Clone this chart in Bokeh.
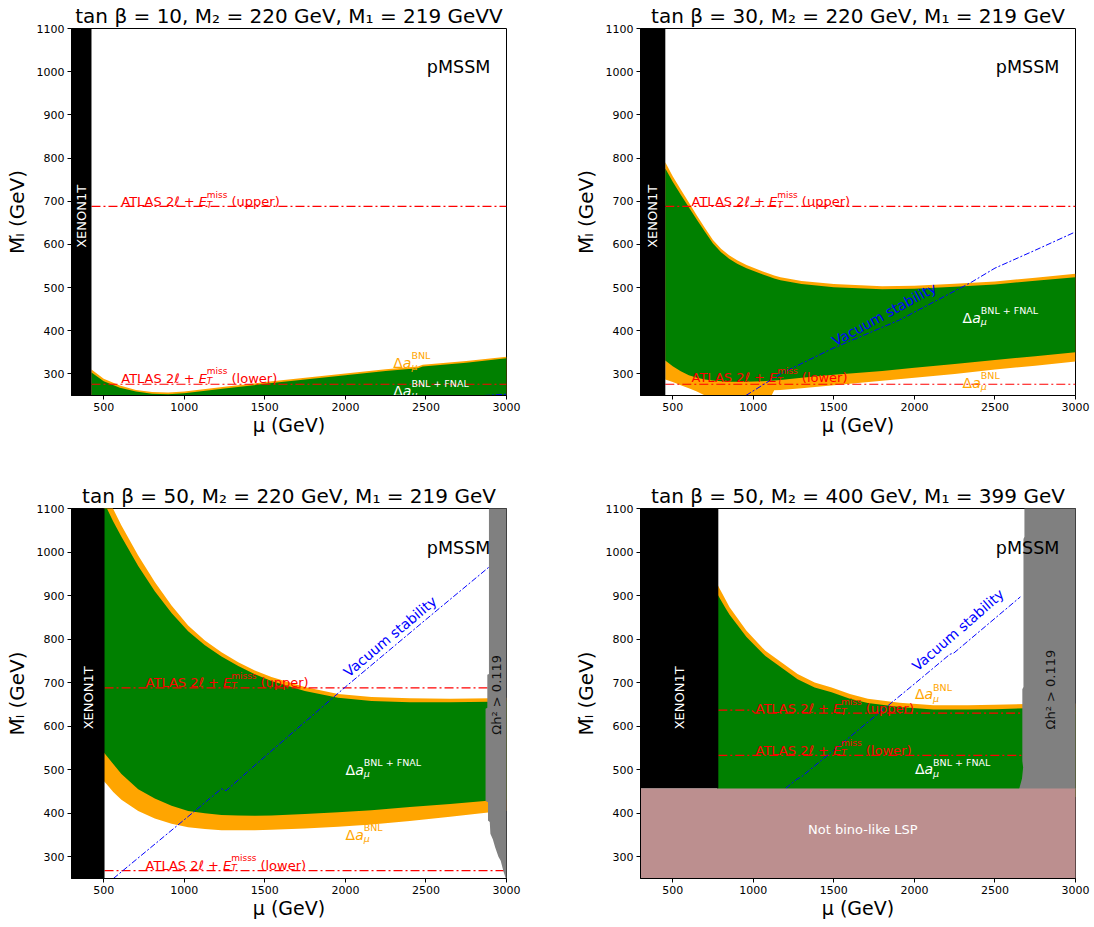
import math
from bokeh.plotting import figure
from bokeh.models import Range1d, FixedTicker
from bokeh.layouts import row, column
from bokeh.core.properties import value
from bokeh.embed import file_html
from bokeh.resources import INLINE

FONT = "DejaVu Sans"
GREEN = "#008000"
ORANGE = "#FFA500"
GREY = "#808080"
ROSY = "#BC8F8F"
RED = "#FF0000"
BLUE = "#0000FF"

X_TICKS = [500, 1000, 1500, 2000, 2500, 3000]
Y_TICKS = [300, 400, 500, 600, 700, 800, 900, 1000, 1100]

TITLES = [
    "tan β = 10, M₂ = 220 GeV, M₁ = 219 GeVV",
    "tan β = 30, M₂ = 220 GeV, M₁ = 219 GeV",
    "tan β = 50, M₂ = 220 GeV, M₁ = 219 GeV",
    "tan β = 50, M₂ = 400 GeV, M₁ = 399 GeV",
]
X_LABEL = "μ (GeV)"
Y_LABEL = "Mₗ̃ (GeV)"
ATLAS_SUP = ["miss", "miss", "misss", "miss"]

# XENON1T exclusion edge (mu, GeV)
XENON_EDGE = [424, 454, 505, 783]
# ATLAS 2l + ETmiss slepton limits
ATLAS_UPPER = [688, 688, 688, 630]
ATLAS_LOWER = [276, 276, 268, 533]
P4_ATLAS_UP_MU = [783, 990, 1010, 3000]
P4_ATLAS_UP = [637, 637, 630, 630]
# Not bino-like LSP region (panel 4)
BINO_LIMIT = 457

# ---- panel 1: tan beta = 10
P1_MU = [424, 500, 600, 700, 800, 900, 1000, 1250, 1500, 1750, 2000, 2250, 2450, 2480, 2750, 3000]
P1_BNL_HI = [310, 289, 273, 263, 258, 257, 259, 270, 281, 291, 301, 311, 317, 321, 330, 340]
P1_FNAL_HI = [303, 283, 268, 259, 254, 253, 255, 266, 277, 287, 297, 307, 313, 317, 326, 336]
P1_VAC_MU = [2860, 3000]
P1_VAC = [250, 253]

# ---- panel 2: tan beta = 30
P2_MU = [454, 500, 550, 600, 650, 700, 750, 800, 850, 900, 958, 1060, 1100, 1130, 1169, 1300, 1500, 1800, 2000, 2250, 2500, 2750, 3000]
P2_BNL_HI = [790, 758, 727, 697, 667, 638, 610, 590, 575, 563, 552, 537, 532, 528, 524, 515, 508, 503, 504, 509, 514, 523, 532]
P2_FNAL_HI = [776, 745, 715, 686, 657, 629, 602, 582, 567, 555, 545, 530, 525, 521, 517, 508, 501, 496, 497, 502, 507, 516, 524]
P2_FNAL_LO = [331, 318, 306, 297, 291, 287, 285, 283, 282, 282, 282, 283, 284, 285, 286, 291, 298, 307, 314, 323, 332, 341, 350]
P2_BNL_LO = [287, 281, 274, 267, 259, 250, 240, 236, 235, 235, 235, 236, 240, 262, 263, 267, 274, 284, 291, 300, 310, 319, 329]
P2_VAC_MU = [954, 1169, 1486, 1908, 2352, 2500, 2753, 3000]
P2_VAC = [250, 300, 358, 425, 512, 545, 587, 629]

# ---- panel 3: tan beta = 50, M2 = 220
P3_MU = [500, 520, 559, 610, 714, 817, 921, 1024, 1128, 1231, 1335, 1438, 1541, 1748, 1955, 2162, 2400, 2650, 2900, 3000]
P3_BNL_HI = [1150, 1130, 1099, 1061, 992, 931, 877, 831, 797, 770, 747, 728, 713, 690, 674, 667, 664, 663, 664, 665]
P3_FNAL_HI = [1120, 1100, 1070, 1035, 968, 910, 860, 818, 786, 760, 738, 719, 704, 681, 665, 658, 655, 655, 656, 657]
P3_FNAL_LO = [540, 531, 513, 490, 455, 434, 417, 405, 400, 396, 395, 394, 395, 398, 402, 407, 414, 421, 429, 432]
P3_BNL_LO = [474, 466, 449, 431, 405, 388, 376, 368, 364, 361, 361, 361, 362, 365, 369, 374, 382, 392, 402, 405]
P3_VAC_MU = [560, 1000, 1230, 1260, 1500, 2000, 2500, 2890]
P3_VAC = [250, 385, 456, 452, 530, 690, 845, 965]
P3_OMEGA_MU = [2891, 2891, 2881, 2881, 2870, 2870, 2885, 2885, 2896, 2900, 2915, 2930, 2950, 2964, 2980, 3000, 3010, 3010]
P3_OMEGA = [1110, 720, 718, 642, 640, 428, 425, 383, 380, 353, 340, 321, 300, 291, 268, 245, 245, 1110]

# ---- panel 4: tan beta = 50, M2 = 400
P4_MU = [775, 829, 853, 958, 1075, 1275, 1381, 1486, 1600, 1711, 1908, 2119, 2331, 2500, 2700, 3000]
P4_BNL_HI = [927, 890, 873, 819, 773, 720, 700, 689, 674, 663, 654, 648, 648, 649, 651, 652]
P4_FNAL_HI = [905, 870, 856, 805, 761, 708, 689, 678, 663, 653, 644, 638, 638, 639, 641, 642]
P4_VAC_MU = [1201, 1270, 1300, 1500, 2000, 2220, 2245, 2658]
P4_VAC = [457, 478, 484, 545, 697, 765, 768, 897]
P4_OMEGA_MU = [2683, 2683, 2677, 2677, 2670, 2670, 2675, 2668, 2650, 3010, 3010]
P4_OMEGA = [1110, 1035, 1030, 690, 685, 520, 505, 480, 455, 455, 1110]

XMIN, XMAX, YMIN, YMAX = 300, 3000, 250, 1100
FRAME_W, FRAME_H = 435, 370
SX = FRAME_W / (XMAX - XMIN)
SY = FRAME_H / (YMAX - YMIN)


def txt(p, x, y, s, size, color="black", align="left", baseline="alphabetic",
        style="normal", dx=0, dy=0, angle=0):
    p.text(x=[x], y=[y], text=[s], text_font=value(FONT), text_font_size=f"{size}px",
           text_color=color, text_align=align, text_baseline=baseline,
           text_font_style=style, x_offset=dx, y_offset=dy, angle=angle)


def delta_a(p, x, yc, sup, color):
    y = yc - 5 / SY
    wD, wa = 9.6, 8.6
    txt(p, x, y, "Δ", 14, color, align="right", dx=wD)
    txt(p, x, y, "a", 14, color, style="italic", dx=wD)
    txt(p, x, y, "μ", 9.5, color, style="italic", dx=wD + wa, dy=4)
    txt(p, x, y, sup, 9.5, color, dx=wD + wa, dy=-7)


def atlas_label(p, x, yc, which, sup):
    y = yc - 4.7 / SY
    d0, sp, wE = 74.4, 4.1, 8.2
    wm = 4.52 * len(sup) + 2.5
    txt(p, x, y, "ATLAS 2ℓ +", 13, RED, align="right", dx=d0)
    txt(p, x, y, "E", 13, RED, style="italic", dx=d0 + sp)
    txt(p, x, y, "T", 9, RED, style="italic", dx=d0 + sp + wE, dy=3)
    txt(p, x, y, sup, 9, RED, dx=d0 + sp + wE, dy=-7)
    txt(p, x, y, f"({which})", 13, RED, dx=d0 + sp + wE + wm + sp)


def base_fig(col, rw, title):
    w = 560 if col == 0 else 532
    bl = 71 if col == 0 else 80
    br = w - bl - FRAME_W
    bt = 25 if rw == 0 else 38
    bb = 75 if rw == 0 else 47
    h = bt + FRAME_H + bb
    p = figure(width=w, height=h, x_range=Range1d(XMIN, XMAX), y_range=Range1d(YMIN, YMAX),
               output_backend="svg", toolbar_location=None, min_border_left=bl,
               min_border_right=br, min_border_top=bt, min_border_bottom=bb, title=title)
    p.title.text_font = FONT
    p.title.text_font_size = "20px"
    p.title.text_font_style = "normal"
    p.title.align = "center"
    p.title.standoff = 2
    p.title.text_color = "black"
    p.grid.visible = False
    p.background_fill_color = "white"
    p.border_fill_color = "white"
    p.outline_line_color = "black"
    p.outline_line_width = 1
    p.xaxis.ticker = FixedTicker(ticks=X_TICKS)
    p.yaxis.ticker = FixedTicker(ticks=Y_TICKS)
    for ax in p.axis:
        ax.major_tick_in = 0
        ax.major_tick_out = 4
        ax.minor_tick_line_color = None
        ax.major_label_text_font = FONT
        ax.major_label_text_font_size = "11px"
        ax.major_label_text_color = "black"
        ax.major_label_standoff = 3
        ax.axis_line_color = "black"
        ax.major_tick_line_color = "black"
        ax.axis_label_text_font = FONT
        ax.axis_label_text_font_style = "normal"
        ax.axis_label_text_color = "black"
    p.xaxis.axis_label = X_LABEL
    p.xaxis.axis_label_text_font_size = "19px"
    p.xaxis.axis_label_standoff = 0
    p.yaxis.axis_label = Y_LABEL
    p.yaxis.axis_label_text_font_size = "20px"
    p.yaxis.axis_label_standoff = 5
    return p


def atlas_lines(p, i):
    xe = XENON_EDGE[i]
    if i == 3:
        p.line(P4_ATLAS_UP_MU, P4_ATLAS_UP, line_color=RED, line_width=1.2, line_dash="9 3 2 3")
    else:
        p.line([xe, XMAX], [ATLAS_UPPER[i], ATLAS_UPPER[i]], line_color=RED, line_width=1.2,
               line_dash="9 3 2 3")
    p.line([xe, XMAX], [ATLAS_LOWER[i], ATLAS_LOWER[i]], line_color=RED, line_width=1.2,
           line_dash="9 3 2 3")


def xenon(p, i, bottom):
    p.quad(left=[XMIN - 20], right=[XENON_EDGE[i]], bottom=[bottom], top=[YMAX + 20],
           fill_color="black", line_color=None)
    txt(p, (XMIN + XENON_EDGE[i]) / 2, 665, "XENON1T", 13, "white", align="center",
        baseline="middle", angle=math.pi / 2)


def vacuum(p, xs, ys):
    p.line(xs, ys, line_color=BLUE, line_width=1, line_dash="6 2 2 2")


def pmssm(p):
    txt(p, 2900, 1010, "pMSSM", 17.5, "black", align="right", baseline="middle")


figs = []

# ---------------- panel 1
p = base_fig(0, 0, TITLES[0])
p.varea(x=P1_MU, y1=YMIN - 20, y2=P1_BNL_HI, fill_color=ORANGE)
p.varea(x=P1_MU, y1=YMIN - 20, y2=P1_FNAL_HI, fill_color=GREEN)
atlas_lines(p, 0)
vacuum(p, P1_VAC_MU, P1_VAC)
atlas_label(p, 602, 710, "upper", ATLAS_SUP[0])
atlas_label(p, 602, 301, "lower", ATLAS_SUP[0])
delta_a(p, 2297, 337, "BNL", ORANGE)
delta_a(p, 2297, 272, "BNL + FNAL", "white")
xenon(p, 0, YMIN - 20)
pmssm(p)
figs.append(p)

# ---------------- panel 2
p = base_fig(1, 0, TITLES[1])
p.varea(x=P2_MU, y1=P2_BNL_LO, y2=P2_BNL_HI, fill_color=ORANGE)
p.varea(x=P2_MU, y1=P2_FNAL_LO, y2=P2_FNAL_HI, fill_color=GREEN)
atlas_lines(p, 1)
vacuum(p, P2_VAC_MU, P2_VAC)
atlas_label(p, 610, 710, "upper", ATLAS_SUP[1])
atlas_label(p, 610, 302, "lower", ATLAS_SUP[1])
delta_a(p, 2299, 442, "BNL + FNAL", "white")
delta_a(p, 2299, 291, "BNL", ORANGE)
txt(p, 1813, 438, "Vacuum stability", 14, BLUE, align="center", baseline="middle",
    angle=math.radians(28.5))
xenon(p, 1, YMIN - 20)
pmssm(p)
figs.append(p)

# ---------------- panel 3
p = base_fig(0, 1, TITLES[2])
p.varea(x=P3_MU, y1=P3_BNL_LO, y2=P3_BNL_HI, fill_color=ORANGE)
p.varea(x=P3_MU, y1=P3_FNAL_LO, y2=P3_FNAL_HI, fill_color=GREEN)
atlas_lines(p, 2)
vacuum(p, P3_VAC_MU, P3_VAC)
atlas_label(p, 753, 710, "upper", ATLAS_SUP[2])
atlas_label(p, 753, 291, "lower", ATLAS_SUP[2])
delta_a(p, 2001, 511, "BNL + FNAL", "white")
delta_a(p, 2001, 362, "BNL", ORANGE)
txt(p, 2277, 806, "Vacuum stability", 14, BLUE, align="center", baseline="middle",
    angle=math.radians(40))
p.patch(P3_OMEGA_MU, P3_OMEGA, fill_color=GREY, line_color=None)
txt(p, 2935, 672, "Ωh² > 0.119", 13, "#111111", align="center", baseline="middle",
    angle=math.pi / 2)
xenon(p, 2, YMIN - 20)
pmssm(p)
figs.append(p)

# ---------------- panel 4
p = base_fig(1, 1, TITLES[3])
p.varea(x=P4_MU, y1=BINO_LIMIT - 20, y2=P4_BNL_HI, fill_color=ORANGE)
p.varea(x=P4_MU, y1=BINO_LIMIT - 20, y2=P4_FNAL_HI, fill_color=GREEN)
atlas_lines(p, 3)
vacuum(p, P4_VAC_MU, P4_VAC)
atlas_label(p, 1007, 651, "upper", ATLAS_SUP[3])
atlas_label(p, 1007, 556, "lower", ATLAS_SUP[3])
delta_a(p, 2003, 513, "BNL + FNAL", "white")
delta_a(p, 2003, 685, "BNL", ORANGE)
txt(p, 2271, 821, "Vacuum stability", 14, BLUE, align="center", baseline="middle",
    angle=math.radians(41))
p.patch(P4_OMEGA_MU, P4_OMEGA, fill_color=GREY, line_color=None)
txt(p, 2843, 684, "Ωh² > 0.119", 13, "#111111", align="center", baseline="middle",
    angle=math.pi / 2)
xenon(p, 3, BINO_LIMIT)
p.quad(left=[XMIN - 20], right=[XMAX + 20], bottom=[YMIN - 20], top=[BINO_LIMIT],
       fill_color=ROSY, line_color=None)
txt(p, 1680, 363, "Not bino-like LSP", 13, "white", align="center", baseline="middle")
pmssm(p)
figs.append(p)

layout = column(row(figs[0], figs[1]), row(figs[2], figs[3]))
open("out.html", "w").write(file_html(layout, INLINE))
